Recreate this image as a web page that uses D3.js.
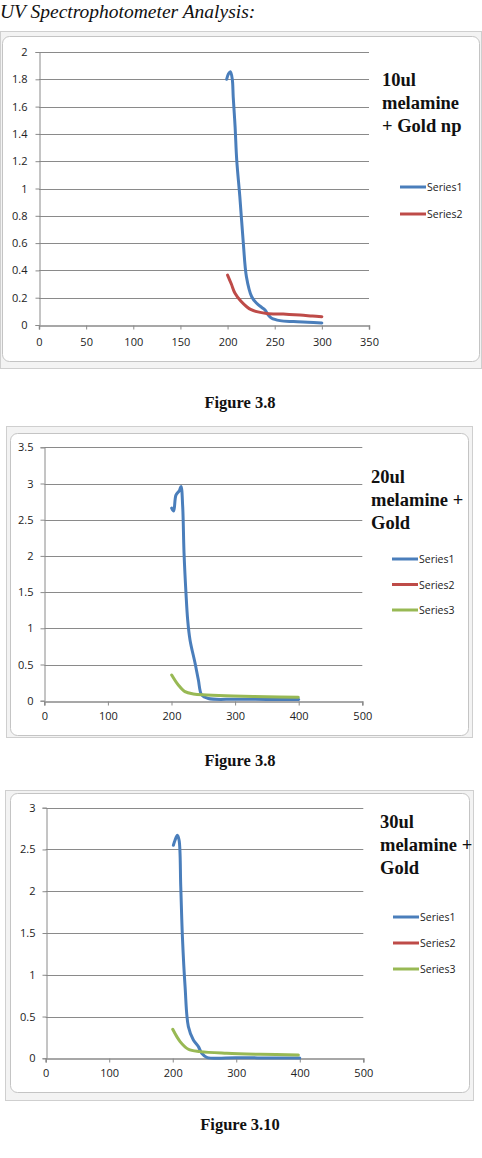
<!DOCTYPE html>
<html>
<head>
<meta charset="utf-8">
<script src="https://cdn.jsdelivr.net/npm/d3@7"></script>
<style>
  html, body { margin: 0; padding: 0; background: #fff; }
  svg { display: block; }
</style>
</head>
<body>
<div id="page"></div>
<script>
// UV spectra (wavelength, absorbance)
const fig1Series1 = [[199,1.80],[201,1.84],[203,1.856],[205,1.80],[206,1.67],[208,1.45],[209.7,1.21],[213,0.94],[216.7,0.60],[220,0.354],[225.6,0.207],[230.9,0.159],[236,0.13],[239.7,0.11],[243,0.075],[246.8,0.049],[255.6,0.032],[270,0.025],[285,0.02],[300,0.015]];
const fig1Series2 = [[200,0.366],[204,0.30],[207.9,0.232],[214,0.175],[220.3,0.134],[225,0.112],[230.9,0.098],[241.5,0.085],[259,0.08],[276.8,0.073],[290,0.066],[300,0.061]];

const fig2Series1 = [[200.3,2.66],[203.4,2.62],[207,2.84],[212.3,2.90],[215,2.96],[217.6,2.68],[219.7,2.04],[222.8,1.48],[225.5,1.11],[229.1,0.84],[237,0.52],[242.2,0.29],[247.5,0.08],[257.9,0.03],[300,0.02],[350,0.018],[400,0.015]];
const fig2Series2 = [];
const fig2Series3 = [[200.3,0.355],[210.7,0.217],[221.2,0.125],[234.3,0.093],[255.3,0.08],[297,0.065],[349.5,0.055],[399.4,0.047]];

const fig3Series1 = [[201,2.55],[203.6,2.61],[207.2,2.67],[210,2.61],[212.6,2.06],[215.2,1.46],[219.4,0.86],[224.6,0.38],[232.5,0.22],[240.4,0.14],[245.7,0.06],[253.5,0.012],[300,0.006],[350,0.005],[400,0.005]];
const fig3Series2 = [];
const fig3Series3 = [[200,0.347],[211.6,0.2],[224.6,0.108],[243,0.08],[285,0.06],[337.5,0.048],[397.8,0.04]];

const fig1Title = ["10ul", "melamine", "+ Gold np"];
const fig2Title = ["20ul", "melamine +", "Gold"];
const fig3Title = ["30ul", "melamine +", "Gold"];

const seriesNames = ["Series1", "Series2", "Series3"];
const seriesColors = ["#4a7ebb", "#be4b48", "#98b954"];

const W = 482, H = 1158;

const svg = d3.select('#page').append('svg')
  .attr('width', W).attr('height', H)
  .attr('viewBox', `0 0 ${W} ${H}`);

svg.append('text')
  .attr('x', 0).attr('y', 18)
  .attr('font-family', '"Liberation Serif", "Times New Roman", serif')
  .attr('font-style', 'italic')
  .attr('font-size', 19.5)
  .attr('fill', '#111')
  .text('UV Spectrophotometer Analysis:');

const charts = [
  {
    series: [fig1Series1, fig1Series2], names: 2, title: fig1Title,
    outer: [0, 31, 482, 338], inner: [2, 36, 478, 326],
    plot: { l: 39, r: 369, t: 52, b: 325 },
    xMax: 350, xStep: 50, yMax: 2, yStep: 0.2,
    titleX: 382, titleY: 86, legendX: 400, legendY: 187, legendGap: 27,
    caption: 'Figure 3.8', captionY: 408, labelGap: 12, xLabelDy: 25
  },
  {
    series: [fig2Series1, fig2Series2, fig2Series3], names: 3, title: fig2Title,
    outer: [6, 426, 467, 312], inner: [10, 433, 459, 303],
    plot: { l: 44.3, r: 362.3, t: 447.3, b: 700.7 },
    xMax: 500, xStep: 100, yMax: 3.5, yStep: 0.5,
    titleX: 371, titleY: 483, legendX: 392, legendY: 559, legendGap: 25.5,
    caption: 'Figure 3.8', captionY: 766, labelGap: 11, xLabelDy: 23
  },
  {
    series: [fig3Series1, fig3Series2, fig3Series3], names: 3, title: fig3Title,
    outer: [5, 790, 469, 311], inner: [10, 793, 460, 300],
    plot: { l: 45.7, r: 363.3, t: 807.7, b: 1058.3 },
    xMax: 500, xStep: 100, yMax: 3, yStep: 0.5,
    titleX: 380, titleY: 828, legendX: 393, legendY: 917, legendGap: 26,
    caption: 'Figure 3.10', captionY: 1130, labelGap: 11, xLabelDy: 23
  }
];

const tickFont = '"Open Sans", "Liberation Sans", Arial, sans-serif';
const yFmt = d => d3.format('~g')(+d.toFixed(1));

charts.forEach(c => {
  const g = svg.append('g');

  // Excel chart frame
  g.append('rect')
    .attr('x', c.outer[0] + 0.5).attr('y', c.outer[1] + 0.5)
    .attr('width', c.outer[2] - 1).attr('height', c.outer[3] - 1)
    .attr('fill', '#f3f3f3').attr('stroke', '#cfcfcf');
  g.append('rect')
    .attr('x', c.inner[0] + 0.5).attr('y', c.inner[1] + 0.5)
    .attr('width', c.inner[2] - 1).attr('height', c.inner[3] - 1)
    .attr('rx', 7).attr('ry', 7)
    .attr('fill', '#fff').attr('stroke', '#c4c4c4');

  const x = d3.scaleLinear().domain([0, c.xMax]).range([c.plot.l, c.plot.r]);
  const y = d3.scaleLinear().domain([0, c.yMax]).range([c.plot.b, c.plot.t]);

  const yTicks = d3.range(0, c.yMax + c.yStep / 2, c.yStep).map(v => +v.toFixed(2));
  const xTicks = d3.range(0, c.xMax + c.xStep / 2, c.xStep);

  // gridlines
  g.append('g').selectAll('line')
    .data(yTicks.filter(v => v > 0))
    .join('line')
    .attr('x1', c.plot.l).attr('x2', c.plot.r)
    .attr('y1', d => Math.round(y(d)) + 0.5).attr('y2', d => Math.round(y(d)) + 0.5)
    .attr('stroke', '#8a8a8a').attr('stroke-width', 1);

  // y axis
  const yAxis = g.append('g')
    .attr('transform', `translate(${Math.round(c.plot.l) + 0.5},0)`)
    .call(d3.axisLeft(y).tickValues(yTicks).tickSize(4).tickPadding(c.labelGap - 4).tickFormat(yFmt));
  yAxis.select('.domain').attr('stroke', '#8a8a8a');
  yAxis.selectAll('.tick line').attr('stroke', '#8a8a8a');
  yAxis.selectAll('text').attr('font-family', tickFont).attr('font-size', 11).attr('fill', '#222');

  // x axis
  const xAxis = g.append('g')
    .attr('transform', `translate(0,${Math.round(c.plot.b) + 0.5})`)
    .call(d3.axisBottom(x).tickValues(xTicks).tickSize(4).tickPadding(c.xLabelDy - 16));
  xAxis.select('.domain').attr('stroke', '#8a8a8a').attr('stroke-width', 1.5);
  xAxis.selectAll('.tick line').attr('stroke', '#8a8a8a');
  xAxis.selectAll('text').attr('font-family', tickFont).attr('font-size', 11).attr('fill', '#222');

  // series lines
  const line = d3.line()
    .x(d => x(d[0])).y(d => y(d[1]))
    .curve(d3.curveCatmullRom.alpha(0.5));
  c.series.forEach((s, i) => {
    if (!s.length) return;
    g.append('path')
      .datum(s)
      .attr('d', line)
      .attr('fill', 'none')
      .attr('stroke', seriesColors[i])
      .attr('stroke-width', 3)
      .attr('stroke-linejoin', 'round')
      .attr('stroke-linecap', 'round');
  });

  // chart title
  const t = g.append('text')
    .attr('font-family', '"Liberation Serif", "Times New Roman", serif')
    .attr('font-weight', 'bold')
    .attr('font-size', 18.5)
    .attr('fill', '#111');
  c.title.forEach((ln, i) => {
    t.append('tspan').attr('x', c.titleX).attr('y', c.titleY + i * 23).text(ln);
  });

  // legend
  const leg = g.append('g');
  seriesNames.slice(0, c.names).forEach((n, i) => {
    const ly = c.legendY + i * c.legendGap;
    leg.append('line')
      .attr('x1', c.legendX).attr('x2', c.legendX + 26)
      .attr('y1', ly).attr('y2', ly)
      .attr('stroke', seriesColors[i]).attr('stroke-width', 3);
    leg.append('text')
      .attr('x', c.legendX + 27).attr('y', ly + 4)
      .attr('font-family', tickFont).attr('font-size', 10.5)
      .attr('fill', '#222')
      .text(n);
  });

  // caption
  svg.append('text')
    .attr('x', 240).attr('y', c.captionY)
    .attr('text-anchor', 'middle')
    .attr('font-family', '"Liberation Serif", "Times New Roman", serif')
    .attr('font-weight', 'bold')
    .attr('font-size', 16.5)
    .attr('fill', '#111')
    .text(c.caption);
});
</script>
</body>
</html>
